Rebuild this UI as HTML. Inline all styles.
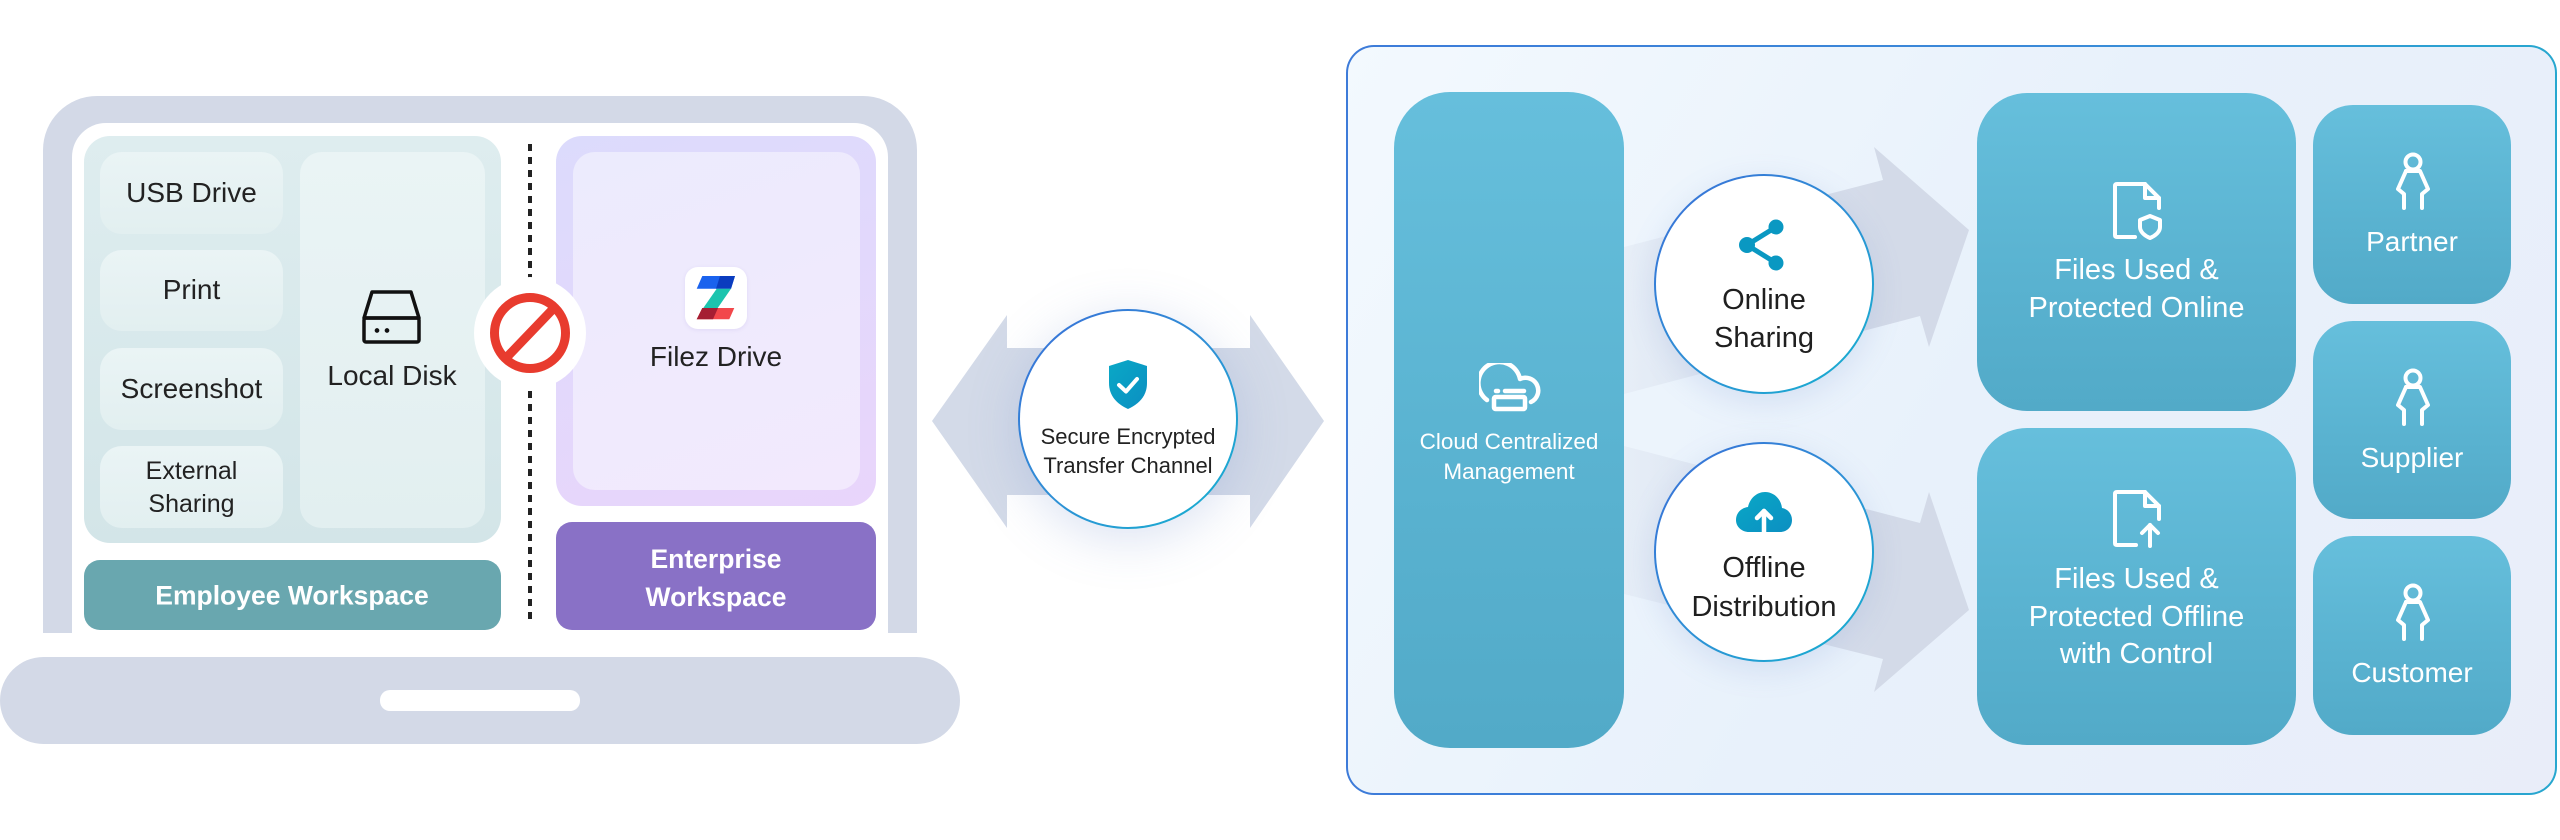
<!DOCTYPE html>
<html>
<head>
<meta charset="utf-8">
<style>
html,body{margin:0;padding:0;}
body{width:2560px;height:840px;position:relative;overflow:hidden;background:#fff;font-family:"Liberation Sans",Arial,sans-serif;}
.a{position:absolute;box-sizing:border-box;}
.t{position:absolute;transform:translate(-50%,-50%);white-space:nowrap;text-align:center;font-family:"Liberation Sans",Arial,sans-serif;}
.item{background:linear-gradient(180deg,#eaf4f5,#e2eff0);border-radius:22px;}
.teal{background:linear-gradient(180deg,#66bfdc 0%,#5ab3d1 55%,#52aac8 100%);}
.circ{border-radius:50%;border:2px solid transparent;background:linear-gradient(#fff,#fff) padding-box,linear-gradient(135deg,#3a6fd8 0%,#2f8fd6 50%,#14b2cf 100%) border-box;}
</style>
</head>
<body>

<!-- ===== LAPTOP ===== -->
<div class="a" style="left:43px;top:96px;width:874px;height:537px;background:#d3d9e7;border-radius:54px 54px 0 0;"></div>
<div class="a" style="left:72px;top:123px;width:816px;height:510px;background:#fff;border-radius:34px 34px 0 0;"></div>

<!-- employee panel -->
<div class="a" style="left:84px;top:136px;width:417px;height:407px;border-radius:26px;background:linear-gradient(180deg,#deedef,#d3e5e8);"></div>
<div class="a item" style="left:100px;top:152px;width:183px;height:82px;"></div>
<div class="a item" style="left:100px;top:250px;width:183px;height:81px;"></div>
<div class="a item" style="left:100px;top:348px;width:183px;height:82px;"></div>
<div class="a item" style="left:100px;top:446px;width:183px;height:82px;"></div>
<div class="a item" style="left:300px;top:152px;width:185px;height:376px;"></div>
<div class="a" style="left:84px;top:560px;width:417px;height:70px;border-radius:16px;background:#69a7af;"></div>

<!-- enterprise panel -->
<div class="a" style="left:556px;top:136px;width:320px;height:370px;border-radius:26px;background:linear-gradient(160deg,#dcdbfc,#e9d5fb);"></div>
<div class="a" style="left:573px;top:152px;width:287px;height:338px;border-radius:22px;background:linear-gradient(160deg,#ecebfd,#f2e9fd);"></div>
<div class="a" style="left:556px;top:522px;width:320px;height:108px;border-radius:16px;background:#8971c6;"></div>

<!-- filez logo -->
<div class="a" style="left:685px;top:267px;width:62px;height:62px;border-radius:13px;background:#fff;box-shadow:0 1px 4px rgba(120,100,200,0.12);"></div>
<svg class="a" style="left:685px;top:267px;" width="62" height="62" viewBox="0 0 62 62">
  <polygon points="17.3,9 50,9 46,21.7 11.7,21.7" fill="#1a62ee"/>
  <polygon points="35,9 50,9 46,21.7 31,21.7" fill="#0a3cbf"/>
  <polygon points="31.7,21.7 46,21.7 32.7,41 18.3,41" fill="#1cc4ae"/>
  <polygon points="17.3,41 49.3,41 44.3,52.3 11.7,52.3" fill="#f2474b"/>
  <polygon points="17.3,41 33,41 28,52.3 11.7,52.3" fill="#a51e33"/>
</svg>

<!-- dotted separator + no sign -->
<svg class="a" style="left:0;top:0;" width="960" height="840">
  <line x1="530" y1="144" x2="530" y2="623" stroke="#222" stroke-width="4" stroke-dasharray="7 6"/>
  <circle cx="530" cy="333" r="56" fill="#fff"/>
  <circle cx="530" cy="333" r="35.5" fill="none" stroke="#e83b2e" stroke-width="9"/>
  <line x1="553" y1="309" x2="507" y2="357" stroke="#e83b2e" stroke-width="9"/>
  <!-- local disk icon -->
  <g transform="translate(362,290)" fill="none" stroke="#111" stroke-width="3.5" stroke-linejoin="round">
    <path d="M10 2 H49 L57 28 H2 Z"/>
    <rect x="2" y="28" width="55" height="24" rx="2"/>
    <circle cx="15" cy="40.5" r="1.6" fill="#111" stroke-width="1.5"/>
    <circle cx="25" cy="40.5" r="1.6" fill="#111" stroke-width="1.5"/>
  </g>
</svg>

<!-- base -->
<div class="a" style="left:0;top:657px;width:960px;height:87px;border-radius:44px;background:#d3d9e7;"></div>
<div class="a" style="left:380px;top:690px;width:200px;height:21px;border-radius:10px;background:#fff;"></div>

<!-- laptop texts -->
<div class="t" style="left:191.5px;top:193px;font-size:28px;color:#222;">USB Drive</div>
<div class="t" style="left:191.5px;top:290px;font-size:28px;color:#222;">Print</div>
<div class="t" style="left:191.5px;top:389px;font-size:28px;color:#222;">Screenshot</div>
<div class="t" style="left:191.5px;top:488px;font-size:25px;line-height:33px;color:#222;">External<br>Sharing</div>
<div class="t" style="left:392px;top:376px;font-size:28px;color:#222;">Local Disk</div>
<div class="t" style="left:716px;top:357px;font-size:28px;color:#222;">Filez Drive</div>
<div class="t" style="left:292px;top:596px;font-size:26.5px;font-weight:bold;color:#fff;">Employee Workspace</div>
<div class="t" style="left:716px;top:578px;font-size:26.5px;line-height:38px;font-weight:bold;color:#fff;">Enterprise<br>Workspace</div>

<!-- ===== CENTER TRANSFER ===== -->
<svg class="a" style="left:0;top:0;" width="1400" height="840">
  <polygon points="932,421 1007,315 1007,348 1250,348 1250,315 1324,421 1250,528 1250,495 1007,495 1007,528" fill="#d3dae8"/>
</svg>
<div class="a circ" style="left:1018px;top:309px;width:220px;height:220px;box-shadow:0 10px 50px rgba(110,140,205,0.25);"></div>
<svg class="a" style="left:1108px;top:359px;" width="40" height="50" viewBox="0 0 40 50">
  <defs><linearGradient id="sg" x1="0" y1="0" x2="1" y2="1"><stop offset="0" stop-color="#0aa8c6"/><stop offset="1" stop-color="#0b8fc2"/></linearGradient></defs>
  <path d="M20 1 L39 7 L39 24 C39 37 31 45 20 50 C9 45 1 37 1 24 L1 7 Z" fill="url(#sg)"/>
  <polyline points="11,26 18,32.5 29,20" fill="none" stroke="#fff" stroke-width="4" stroke-linecap="round" stroke-linejoin="round"/>
</svg>
<div class="t" style="left:1128px;top:451px;font-size:22px;line-height:29px;color:#222;">Secure Encrypted<br>Transfer Channel</div>

<!-- ===== RIGHT CONTAINER ===== -->
<div class="a" style="left:1346px;top:45px;width:1211px;height:750px;border-radius:28px;border:2px solid transparent;background:linear-gradient(120deg,#f3f9fe 0%,#e8f1fb 50%,#e9edf9 100%) padding-box,linear-gradient(90deg,#3d7bd9,#3a8ad8 60%,#27a7cf) border-box;"></div>

<svg class="a" style="left:0;top:0;" width="2560" height="840">
  <defs>
    <linearGradient id="ag" gradientUnits="userSpaceOnUse" x1="1624" y1="0" x2="1880" y2="0">
      <stop offset="0" stop-color="#d3dae8" stop-opacity="0.25"/>
      <stop offset="1" stop-color="#d3dae8" stop-opacity="1"/>
    </linearGradient>
  </defs>
  <polygon points="1624,247 1883,180 1874,147 1969,230 1929,347 1920,316 1624,394" fill="url(#ag)"/>
  <polygon points="1624,446 1920,523 1929,492 1969,610 1874,692 1883,659 1624,594" fill="url(#ag)"/>
</svg>

<!-- cloud centralized management -->
<div class="a teal" style="left:1394px;top:92px;width:230px;height:656px;border-radius:56px;"></div>
<svg class="a" style="left:1479px;top:363px;" width="62" height="50" viewBox="0 0 62 50" fill="none" stroke="#fff" stroke-width="4.5" stroke-linecap="round" stroke-linejoin="round">
  <path d="M8 37 A21 21 0 1 1 41 16 A12 12 0 0 1 52 39"/>
  <line x1="17" y1="28" x2="19" y2="28"/>
  <line x1="26" y1="28" x2="45" y2="28"/>
  <rect x="15" y="34" width="31" height="12" rx="1.5"/>
</svg>
<div class="t" style="left:1509px;top:457px;font-size:22.5px;line-height:30px;color:#fff;">Cloud Centralized<br>Management</div>

<!-- circles -->
<div class="a circ" style="left:1654px;top:174px;width:220px;height:220px;box-shadow:0 8px 30px rgba(110,140,205,0.18);"></div>
<div class="a circ" style="left:1654px;top:442px;width:220px;height:220px;box-shadow:0 8px 30px rgba(110,140,205,0.18);"></div>
<svg class="a" style="left:1738px;top:218px;" width="48" height="54" viewBox="0 0 48 54">
  <g stroke="#0a98c2" stroke-width="5" fill="none"><line x1="9" y1="27" x2="38" y2="9"/><line x1="9" y1="27" x2="38" y2="45"/></g>
  <circle cx="38" cy="9" r="7.5" fill="#0a98c2"/>
  <circle cx="9" cy="27" r="8" fill="#0a98c2"/>
  <circle cx="38" cy="45" r="7.5" fill="#0a98c2"/>
</svg>
<div class="t" style="left:1764px;top:319px;font-size:29px;line-height:38px;color:#1f1f1f;">Online<br>Sharing</div>
<svg class="a" style="left:1736px;top:492px;" width="56" height="41" viewBox="0 0 56 41">
  <defs><linearGradient id="cg" x1="0" y1="0" x2="1" y2="1"><stop offset="0" stop-color="#0aa8c6"/><stop offset="1" stop-color="#0b8fc2"/></linearGradient></defs>
  <path d="M13 40 C6 40 0 35 0 28 C0 21 5 16 12 15 C14 6 21 0 29 0 C38 0 45 7 46 16 C52 17 56 22 56 28 C56 35 51 40 44 40 Z" fill="url(#cg)"/>
  <g stroke="#fff" stroke-width="4.5" fill="none" stroke-linecap="round" stroke-linejoin="round">
    <line x1="28" y1="40" x2="28" y2="19"/><polyline points="21,26 28,19 35,26"/>
  </g>
</svg>
<div class="t" style="left:1764px;top:587.5px;font-size:29px;line-height:39px;color:#1f1f1f;">Offline<br>Distribution</div>

<!-- files boxes -->
<div class="a teal" style="left:1977px;top:93px;width:319px;height:318px;border-radius:50px;"></div>
<div class="a teal" style="left:1977px;top:428px;width:319px;height:317px;border-radius:50px;"></div>
<svg class="a" style="left:2112px;top:181px;" width="52" height="60" viewBox="0 0 52 60" fill="none" stroke="#fff" stroke-width="4" stroke-linecap="round" stroke-linejoin="round">
  <path d="M23 56 H5 Q3 56 3 54 V5 Q3 3 5 3 H33 L47 17 V27"/>
  <path d="M33 3 V17 H47"/>
  <path d="M38 35 L48 39 V46 C48 51 43 55 38 57 C33 55 28 51 28 46 V39 Z"/>
</svg>
<div class="t" style="left:2136.5px;top:289px;font-size:29px;line-height:38px;color:#fff;">Files Used &amp;<br>Protected Online</div>
<svg class="a" style="left:2112px;top:489px;" width="52" height="60" viewBox="0 0 52 60" fill="none" stroke="#fff" stroke-width="4" stroke-linecap="round" stroke-linejoin="round">
  <path d="M24 56 H5 Q3 56 3 54 V5 Q3 3 5 3 H33 L47 17 V30"/>
  <path d="M33 3 V17 H47"/>
  <line x1="38" y1="57" x2="38" y2="36"/>
  <polyline points="30,44 38,36 46,44"/>
</svg>
<div class="t" style="left:2136.5px;top:617px;font-size:29px;line-height:37.5px;color:#fff;">Files Used &amp;<br>Protected Offline<br>with Control</div>

<!-- persons -->
<div class="a teal" style="left:2313px;top:105px;width:198px;height:199px;border-radius:40px;"></div>
<div class="a teal" style="left:2313px;top:321px;width:198px;height:198px;border-radius:40px;"></div>
<div class="a teal" style="left:2313px;top:536px;width:198px;height:199px;border-radius:40px;"></div>

<svg class="a" style="left:2393px;top:151px;" width="40" height="60" viewBox="0 0 40 60" fill="none" stroke="#fff" stroke-width="4" stroke-linecap="round" stroke-linejoin="round">
  <circle cx="20" cy="11" r="7.5"/>
  <path d="M13 20 H27 L35 38 L29 43 V57"/><path d="M13 20 L5 38 L11 43 V57"/>
</svg>
<div class="t" style="left:2412px;top:242px;font-size:28px;color:#fff;">Partner</div>
<svg class="a" style="left:2393px;top:367px;" width="40" height="60" viewBox="0 0 40 60" fill="none" stroke="#fff" stroke-width="4" stroke-linecap="round" stroke-linejoin="round">
  <circle cx="20" cy="11" r="7.5"/>
  <path d="M13 20 H27 L35 38 L29 43 V57"/><path d="M13 20 L5 38 L11 43 V57"/>
</svg>
<div class="t" style="left:2412px;top:458px;font-size:28px;color:#fff;">Supplier</div>
<svg class="a" style="left:2393px;top:582px;" width="40" height="60" viewBox="0 0 40 60" fill="none" stroke="#fff" stroke-width="4" stroke-linecap="round" stroke-linejoin="round">
  <circle cx="20" cy="11" r="7.5"/>
  <path d="M13 20 H27 L35 38 L29 43 V57"/><path d="M13 20 L5 38 L11 43 V57"/>
</svg>
<div class="t" style="left:2412px;top:673px;font-size:28px;color:#fff;">Customer</div>

</body>
</html>
